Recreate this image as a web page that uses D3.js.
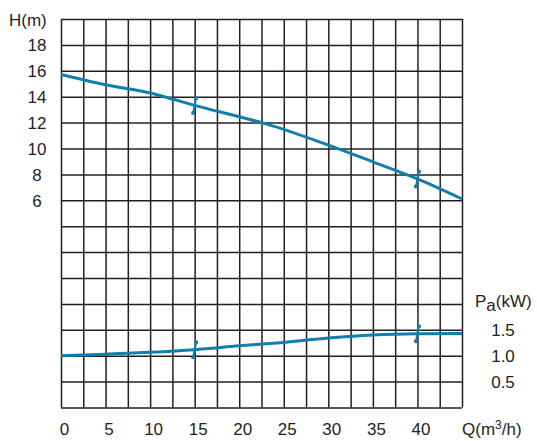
<!DOCTYPE html>
<html>
<head>
<meta charset="utf-8">
<script src="https://cdn.jsdelivr.net/npm/d3@7"></script>
<style>
  html, body { margin: 0; padding: 0; background: #fff; }
  svg text { font-family: "Liberation Sans", Arial, sans-serif; fill: #231f20; }
</style>
</head>
<body>
<svg id="chart"></svg>
<script>
// Pump curve data
const headQ = [0, 5, 10, 12.5, 15, 20, 23, 30, 35, 40, 45];
const headH = [15.72, 14.92, 14.28, 13.82, 13.33, 12.45, 11.9, 10.26, 8.97, 7.65, 6.1];

const powerQ = [0, 5, 10, 15, 20, 25, 30, 35, 40, 45];
const powerP = [1.0, 1.03, 1.065, 1.115, 1.19, 1.257, 1.34, 1.4, 1.425, 1.43];

// duty-point markers on both curves
const markQ = [15, 40];

// tick labels
const qTicks = [0, 5, 10, 15, 20, 25, 30, 35, 40];
const hTicks = [6, 8, 10, 12, 14, 16, 18];
const pTicks = [0.5, 1.0, 1.5];

const width = 537;
const height = 441;
const margin = { top: 19, right: 75, bottom: 33.5, left: 61 };
const chartWidth = width - margin.left - margin.right;
const chartHeight = height - margin.top - margin.bottom;

const lineColor = '#0f7fab';
const gridColor = '#231f20';

const svg = d3.select('#chart')
  .attr('width', width)
  .attr('height', height);

const g = svg.append('g')
  .attr('transform', `translate(${margin.left}, ${margin.top})`);

// Scales
const x = d3.scaleLinear().domain([0, 45]).range([0, chartWidth]);
const yH = d3.scaleLinear().domain([-10, 20]).range([chartHeight, 0]);
const yP = d3.scaleLinear().domain([0, 7.5]).range([chartHeight, 0]);

// Grid (18 columns x 15 rows)
g.append('g')
  .attr('class', 'grid')
  .attr('transform', `translate(0, ${chartHeight})`)
  .call(d3.axisBottom(x).tickValues(d3.range(0, 45.01, 2.5)).tickSize(-chartHeight).tickFormat(''))
  .call((s) => s.select('.domain').remove());

g.append('g')
  .attr('class', 'grid')
  .call(d3.axisLeft(yH).tickValues(d3.range(-10, 20.01, 2)).tickSize(-chartWidth).tickFormat(''))
  .call((s) => s.select('.domain').remove());

g.selectAll('.grid line')
  .attr('stroke', gridColor)
  .attr('stroke-width', 1.5);

// Curves
const headLine = d3.line()
  .x((d) => x(d[0]))
  .y((d) => yH(d[1]))
  .curve(d3.curveMonotoneX);

const powerLine = d3.line()
  .x((d) => x(d[0]))
  .y((d) => yP(d[1]))
  .curve(d3.curveMonotoneX);

const headData = d3.zip(headQ, headH);
const powerData = d3.zip(powerQ, powerP);

g.append('path')
  .datum(headData)
  .attr('d', headLine)
  .attr('fill', 'none')
  .attr('stroke', lineColor)
  .attr('stroke-width', 3);

g.append('path')
  .datum(powerData)
  .attr('d', powerLine)
  .attr('fill', 'none')
  .attr('stroke', lineColor)
  .attr('stroke-width', 3);

// Duty-point marks: short slanted strokes with round ends
const interpH = d3.scaleLinear().domain(headQ).range(headH);
const interpP = d3.scaleLinear().domain(powerQ).range(powerP);

const marks = markQ.flatMap((q) => [
  { cx: x(q), cy: yH(interpH(q)) },
  { cx: x(q), cy: yP(interpP(q)) },
]);

const markG = g.selectAll('.mark')
  .data(marks)
  .enter()
  .append('g')
  .attr('transform', (d) => `translate(${d.cx}, ${d.cy})`);

markG.append('line')
  .attr('x1', 1.3).attr('y1', -7.5)
  .attr('x2', -1.3).attr('y2', 7.5)
  .attr('stroke', lineColor)
  .attr('stroke-width', 2.2);

markG.append('circle').attr('cx', 1.6).attr('cy', -7.5).attr('r', 2).attr('fill', lineColor);
markG.append('circle').attr('cx', -1.6).attr('cy', 7.5).attr('r', 2).attr('fill', lineColor);

// Axis labels
const fontSize = 17;

g.selectAll('.q-label')
  .data(qTicks)
  .enter()
  .append('text')
  .attr('x', (d) => x(d) + 3.5)
  .attr('y', chartHeight + 27.5)
  .attr('text-anchor', 'middle')
  .style('font-size', `${fontSize}px`)
  .text((d) => d);

g.selectAll('.h-label')
  .data(hTicks)
  .enter()
  .append('text')
  .attr('x', -24)
  .attr('y', (d) => yH(d) + 6.5)
  .attr('text-anchor', 'middle')
  .style('font-size', `${fontSize}px`)
  .text((d) => d);

g.selectAll('.p-label')
  .data(pTicks)
  .enter()
  .append('text')
  .attr('x', chartWidth + 41)
  .attr('y', (d) => yP(d) + 6.5)
  .attr('text-anchor', 'middle')
  .style('font-size', `${fontSize}px`)
  .text((d) => d.toFixed(1));

svg.append('text')
  .attr('x', 9)
  .attr('y', 26)
  .style('font-size', `${fontSize}px`)
  .text('H(m)');

const pa = svg.append('text')
  .attr('x', 475)
  .attr('y', 307)
  .style('font-size', `${fontSize}px`);
pa.append('tspan').text('P');
pa.append('tspan').attr('dy', 4).text('a');
pa.append('tspan').attr('dy', -4).text('(kW)');

const qt = svg.append('text')
  .attr('x', 462)
  .attr('y', 435)
  .style('font-size', `${fontSize}px`);
qt.append('tspan').text('Q(m');
qt.append('tspan').attr('dy', -6).style('font-size', '12px').text('3');
qt.append('tspan').attr('dy', 6).text('/h)');
</script>
</body>
</html>
